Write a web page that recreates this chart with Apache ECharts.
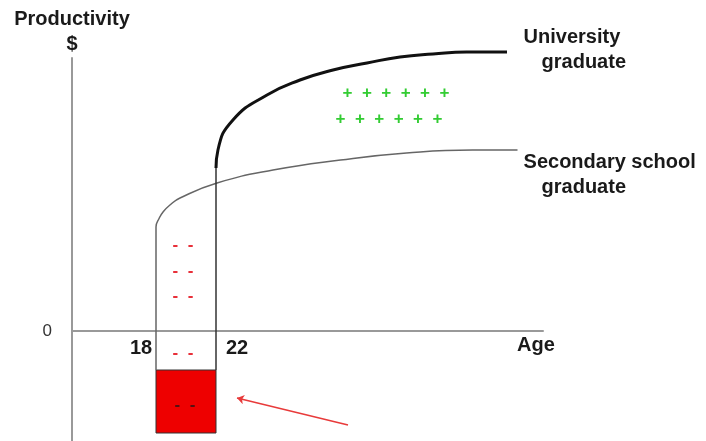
<!DOCTYPE html>
<html>
<head>
<meta charset="utf-8">
<script src="https://cdn.jsdelivr.net/npm/echarts@6/dist/echarts.min.js"></script>
<style>
  html, body { margin: 0; background: #fff; }
  #main { width: 706px; height: 441px; }
</style>
</head>
<body>
<div id="main"></div>
<script>
var ageTicks = [18, 22];
var prodTicks = [0];

// secondary school graduate: starts working at 18
var secAge = [18, 18, 18.22, 18.47, 18.93, 19.6, 22.07, 25.8, 30.3, 34.7, 39.1, 42.1];
var secProd = [-3.9, 10.4, 11.3, 11.9, 12.6, 13.3, 14.8, 16.1, 17.1, 17.8, 18.1, 18.1];

// university graduate: studies 18-22, then higher curve
var uniStudyAge = [22, 22];
var uniStudyProd = [-3.9, 16.3];
var uniAge = [22, 22.13, 23.13, 25.4, 27.6, 29.8, 32.07, 34.27, 36.47, 38.7, 41.4];
var uniProd = [16.3, 18.1, 21.1, 23.6, 25.1, 26.1, 26.8, 27.4, 27.7, 27.9, 27.9];

// cost of studying (box under the axis)
var boxAge = [18, 22];
var boxProd = [-3.9, -10.2];

// "- -" and "+ + +" marks
var minusAge = [19.8, 19.8, 19.8, 19.8];
var minusProd = [8.6, 6.0, 3.5, -2.2];
var boxMinus = [19.93, -7.4];
var plusAge = [34.0, 33.53];
var plusProd = [23.8, 21.2];

var arrowFrom = [30.8, -9.4];
var arrowTo = [23.4, -6.7];

// curve names
var noteText = ["University", "graduate", "Secondary school", "graduate"];
var noteAge = [42.47, 43.67, 42.47, 43.67];
var noteProd = [29.4, 26.9, 16.9, 14.4];

function pairs(xs, ys) {
  return xs.map(function (x, i) { return [x, ys[i]]; });
}

var font = "'Liberation Sans', Arial, sans-serif";
var chart = echarts.init(document.getElementById("main"));

// invisible point that only carries a text label
var hidden = { color: "rgba(0,0,0,0)", opacity: 1 };

var yMin = -11, yMax = 27.3, gridTop = 58, gridH = 441 - gridTop;
// move the x axis from the grid bottom up to productivity 0
var zeroOffset = -Math.round(gridH * (0 - yMin) / (yMax - yMin));

var option = {
  animation: false,
  grid: { left: 72, right: 163, top: gridTop, bottom: 0, containLabel: false, outerBoundsMode: "none" },
  xAxis: {
    type: "value",
    min: 12.4,
    max: 43.8,
    offset: zeroOffset,
    splitLine: { show: false },
    axisTick: { show: false },
    axisLine: { onZero: false, lineStyle: { color: "#999", width: 2 } },
    axisLabel: {
      customValues: ageTicks,
      margin: 7,
      formatter: function (v) {
        return ageTicks.indexOf(v) === 0 ? "{l|" + v + "}" : "{r|" + v + "}";
      },
      rich: {
        l: { fontFamily: font, fontSize: 20, fontWeight: "bold", color: "#1a1a1a", padding: [0, 30, 0, 0] },
        r: { fontFamily: font, fontSize: 20, fontWeight: "bold", color: "#1a1a1a", padding: [0, 0, 0, 42] }
      }
    },
    name: "Age",
    nameLocation: "end",
    nameGap: -7,
    nameTextStyle: {
      fontFamily: font, fontSize: 20, fontWeight: "bold", color: "#1a1a1a",
      align: "center", verticalAlign: "top", padding: [4, 0, 0, 0]
    }
  },
  yAxis: {
    type: "value",
    min: yMin,
    max: yMax,
    splitLine: { show: false },
    axisTick: { show: false },
    axisLine: { onZero: false, lineStyle: { color: "#999", width: 2 } },
    axisLabel: {
      customValues: prodTicks,
      margin: 20,
      fontFamily: font,
      fontSize: 17,
      color: "#333"
    },
    name: "Productivity\n$",
    nameLocation: "end",
    nameGap: 1,
    nameTextStyle: {
      fontFamily: font, fontSize: 20, fontWeight: "bold", color: "#1a1a1a",
      lineHeight: 25, align: "center", verticalAlign: "bottom"
    }
  },
  series: [
    {
      name: "box",
      type: "line",
      data: [],
      silent: true,
      markArea: {
        silent: true,
        itemStyle: { color: "#ee0000", borderColor: "#333", borderWidth: 1 },
        data: [[{ coord: [boxAge[0], boxProd[0]] }, { coord: [boxAge[1], boxProd[1]] }]]
      }
    },
    {
      name: "Secondary school graduate",
      type: "line",
      data: pairs(secAge, secProd),
      smooth: 0.5,
      showSymbol: false,
      clip: false,
      lineStyle: { color: "#666", width: 1.5 }
    },
    {
      name: "University study",
      type: "line",
      data: pairs(uniStudyAge, uniStudyProd),
      showSymbol: false,
      clip: false,
      lineStyle: { color: "#333", width: 1.5 }
    },
    {
      name: "University graduate",
      type: "line",
      data: pairs(uniAge, uniProd),
      smooth: 0.5,
      showSymbol: false,
      clip: false,
      lineStyle: { color: "#111", width: 3 }
    },
    {
      name: "minus",
      type: "scatter",
      clip: false,
      symbolSize: 1,
      itemStyle: hidden,
      data: pairs(minusAge, minusProd),
      label: {
        show: true, position: "inside", formatter: "-  -",
        fontFamily: font, fontSize: 17, fontWeight: "bold", color: "#e8303a"
      }
    },
    {
      name: "boxMinus",
      type: "scatter",
      clip: false,
      symbolSize: 1,
      itemStyle: hidden,
      data: [boxMinus],
      label: {
        show: true, position: "inside", formatter: "-  -",
        fontFamily: font, fontSize: 17, fontWeight: "bold", color: "#551111"
      }
    },
    {
      name: "plus",
      type: "scatter",
      clip: false,
      symbolSize: 1,
      itemStyle: hidden,
      data: pairs(plusAge, plusProd),
      label: {
        show: true, position: "inside", formatter: "+  +  +  +  +  +",
        fontFamily: font, fontSize: 17, fontWeight: "bold", color: "#33cc33"
      }
    },
    {
      name: "notes",
      type: "scatter",
      clip: false,
      symbolSize: 1,
      itemStyle: hidden,
      data: pairs(noteAge, noteProd).map(function (p, i) {
        return { value: p, label: { formatter: noteText[i] } };
      }),
      label: {
        show: true, position: "right", distance: 0,
        fontFamily: font, fontSize: 20, fontWeight: "bold", color: "#1a1a1a"
      }
    },
    {
      name: "arrow",
      type: "lines",
      coordinateSystem: "cartesian2d",
      symbol: ["none", "arrow"],
      symbolSize: 7,
      lineStyle: { color: "#e83a3a", width: 1.5, opacity: 1 },
      data: [{ coords: [arrowFrom, arrowTo] }]
    }
  ]
};

chart.setOption(option);
</script>
</body>
</html>
